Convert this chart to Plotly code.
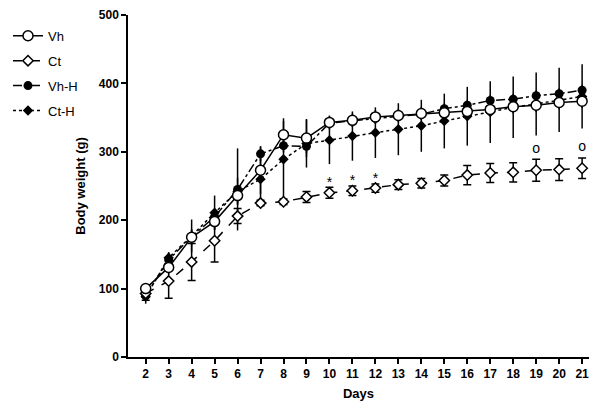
import plotly.graph_objects as go

days = list(range(2, 22))

vh = [100, 131, 175, 198, 236, 273, 325, 320, 343, 346, 351, 353, 356, 357, 359, 362, 366, 368, 372, 374]
vh_err = [8, 10, 12, 12, 12, 35, 20, 28, 10, 10, 10, 10, 10, 10, 10, 10, 10, 10, 10, 10]

ct = [93, 111, 139, 170, 206, 225, 227, 234, 240, 243, 247, 252, 254, 258, 266, 269, 270, 273, 274, 276]
ct_err = [10, 25, 27, 31, 11, 4, 4, 8, 8, 7, 6, 7, 7, 8, 14, 14, 14, 16, 16, 15]

vhh = [90, 142, 176, 205, 245, 297, 309, 308, 342, 345, 349, 352, 355, 363, 368, 375, 377, 382, 385, 390]
vhh_err = [8, 11, 10, 10, 60, 11, 10, 10, 8, 8, 8, 8, 8, 8, 8, 8, 8, 8, 8, 8]

cth = [88, 145, 177, 211, 242, 260, 289, 312, 317, 323, 328, 333, 338, 345, 352, 358, 365, 370, 376, 381]
cth_err = [10, 8, 24, 25, 20, 35, 60, 35, 35, 36, 37, 38, 38, 40, 43, 45, 45, 46, 47, 47]

# significance marks above Ct
sig_days = [10, 11, 12, 19, 21]
sig_labels = ["*", "*", "*", "o", "o"]

font = "Liberation Sans, Arial, sans-serif"

fig = go.Figure()


def err(vals, width):
    return dict(type="data", array=vals, visible=True, color="black",
                thickness=1.5, width=width)


fig.add_trace(go.Scatter(
    x=days, y=cth, name="Ct-H", mode="lines+markers", legendrank=4, legendgroup="cth",
    line=dict(color="black", width=1.5, dash="dot"),
    marker=dict(symbol="diamond", size=8, color="black"),
    error_y=err(cth_err, 0),
))
fig.add_trace(go.Scatter(
    x=days, y=vhh, name="Vh-H", mode="lines+markers", legendrank=3, legendgroup="vhh",
    line=dict(color="black", width=1.5, dash="dashdot"),
    marker=dict(symbol="circle", size=9, color="black"),
    error_y=err(vhh_err, 0),
))
fig.add_trace(go.Scatter(
    x=days, y=ct, name="Ct", mode="lines+markers", legendrank=2, legendgroup="ct",
    line=dict(color="black", width=1.5, dash="dash"),
    marker=dict(symbol="diamond", size=8, color="white",
                line=dict(color="black", width=1.5)),
    error_y=err(ct_err, 4),
))
fig.add_trace(go.Scatter(
    x=days, y=vh, name="Vh", mode="lines+markers", legendrank=1, legendgroup="vh",
    line=dict(color="black", width=1.5),
    marker=dict(symbol="circle", size=10, color="white",
                line=dict(color="black", width=1.5)),
    error_y=err(vh_err, 0),
))

# marks sit just above the Ct error bar
sig_y = []
for d, lab in zip(sig_days, sig_labels):
    i = days.index(d)
    sig_y.append(ct[i] + ct_err[i] + (6 if lab == "*" else 15))

fig.add_trace(go.Scatter(
    x=sig_days, y=sig_y, mode="text", text=sig_labels, showlegend=False,
    textfont=dict(family=font, size=14, color="black"),
    hoverinfo="skip",
))

# page body has an 8px margin, so the figure is 16px smaller than the window
fig.update_layout(
    width=584, height=393,
    paper_bgcolor="white", plot_bgcolor="white",
    margin=dict(l=0, r=3, t=2, b=44),
    font=dict(family=font, color="black"),
    showlegend=True,
    legend=dict(
        x=0, xanchor="left", y=0.983, yanchor="top",
        font=dict(family=font, size=13, color="black"),
        traceorder="grouped", tracegroupgap=5, itemwidth=30,
        bgcolor="rgba(0,0,0,0)",
    ),
    xaxis=dict(
        domain=[120 / 581, 1],
        range=[1.23, 21.3], tickmode="array", tickvals=days,
        ticktext=[str(d) for d in days],
        showline=True, linecolor="black", linewidth=1.5,
        ticks="outside", ticklen=5, tickwidth=1.5, tickcolor="black",
        showgrid=False, zeroline=False,
        tickfont=dict(family=font, size=12, color="black", weight="bold"),
        title=dict(text="<b>Days</b>", font=dict(family=font, size=13), standoff=9),
    ),
    yaxis=dict(
        range=[0, 500], tickvals=[0, 100, 200, 300, 400, 500],
        showline=True, linecolor="black", linewidth=1.5,
        ticks="outside", ticklen=5, tickwidth=1.5, tickcolor="black",
        showgrid=False, zeroline=False, ticklabeloverflow="allow",
        tickfont=dict(family=font, size=12, color="black", weight="bold"),
        title=dict(text="<b>Body weight (g)</b>", font=dict(family=font, size=13), standoff=10),
    ),
)

fig.write_html("out.html")
